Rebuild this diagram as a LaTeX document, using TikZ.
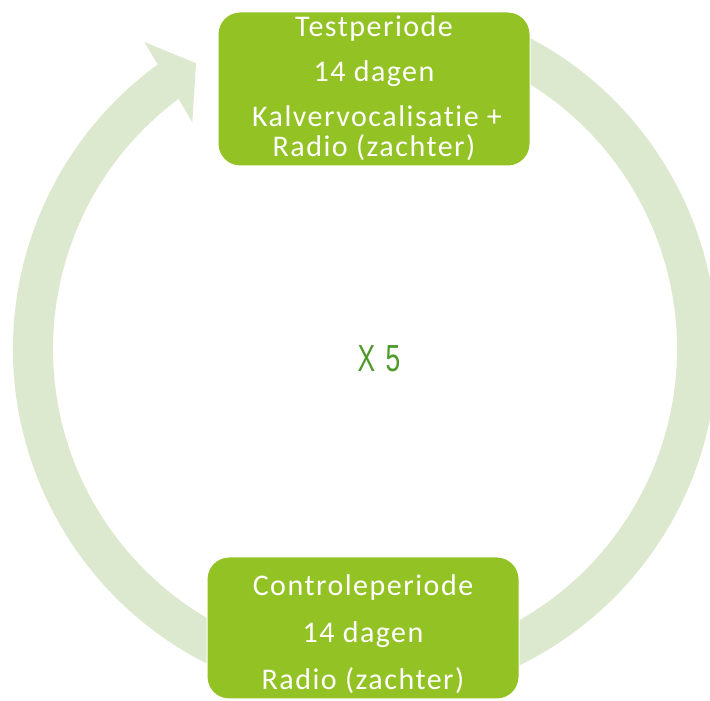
\documentclass[tikz,border=0pt]{standalone}
\usepackage{fontspec}
\newfontfamily\boxfont{Carlito}[LetterSpace=5,Ligatures={NoCommon,NoRare,NoDiscretionary}]
\newfontfamily\xfont{Liberation Sans}
\definecolor{ringgreen}{HTML}{DCE9CF}
\definecolor{boxgreen}{HTML}{93C225}
\definecolor{xgreen}{HTML}{4E9A2A}
\tikzset{
  greenbox/.style={draw=white, line width=1pt, fill=boxgreen, rounded corners=22pt, minimum width=312pt, inner sep=0pt},
  boxtext/.style={font=\boxfont\fontsize{30}{30}\selectfont, text=white, anchor=base, inner sep=0pt},
  ringfill/.style={fill=ringgreen}
}
\begin{document}
\begin{tikzpicture}[x=1pt,y=1pt]
\useasboundingbox (0,0) rectangle (710,701);
\coordinate (c) at (365,352);
% right arc
\fill[ringfill] ([shift={(70:352)}]c) arc[start angle=70,end angle=-70,radius=352]
  -- ([shift={(-70:312)}]c) arc[start angle=-70,end angle=70,radius=312] -- cycle;
% left arc with arrow head
\fill[ringfill] ([shift={(255:352)}]c) arc[start angle=255,end angle=126.1,radius=352]
  -- ([shift={(125.7:378)}]c) -- ([shift={(120.6:332)}]c) -- ([shift={(127.3:285)}]c)
  -- ([shift={(126.7:312)}]c) arc[start angle=126.7,end angle=255,radius=312] -- cycle;
% boxes
\node[greenbox, minimum height=154pt] (top) at (374,612) {};
\node[greenbox, minimum height=142pt] (bottom) at (363,73) {};
% top text
\node[boxtext] (t1) at (374,664) {Testperiode};
\node[boxtext] (t2) at (374,619) {14 dagen};
\node[boxtext] (t3) at (377,574) {Kalvervocalisatie +};
\node[boxtext] (t4) at (374,544) {Radio (zachter)};
% bottom text
\node[boxtext] (b1) at (363,105) {Controleperiode};
\node[boxtext] (b2) at (363,58) {14 dagen};
\node[boxtext] (b3) at (363,11) {Radio (zachter)};
% centre
\node[font=\xfont\fontsize{37.7}{40}\selectfont, text=xgreen, anchor=base, inner sep=0pt] (x5) at (379,329) {\scalebox{0.7}[1]{X\hspace{0.4em}5}};
\end{tikzpicture}
\end{document}
